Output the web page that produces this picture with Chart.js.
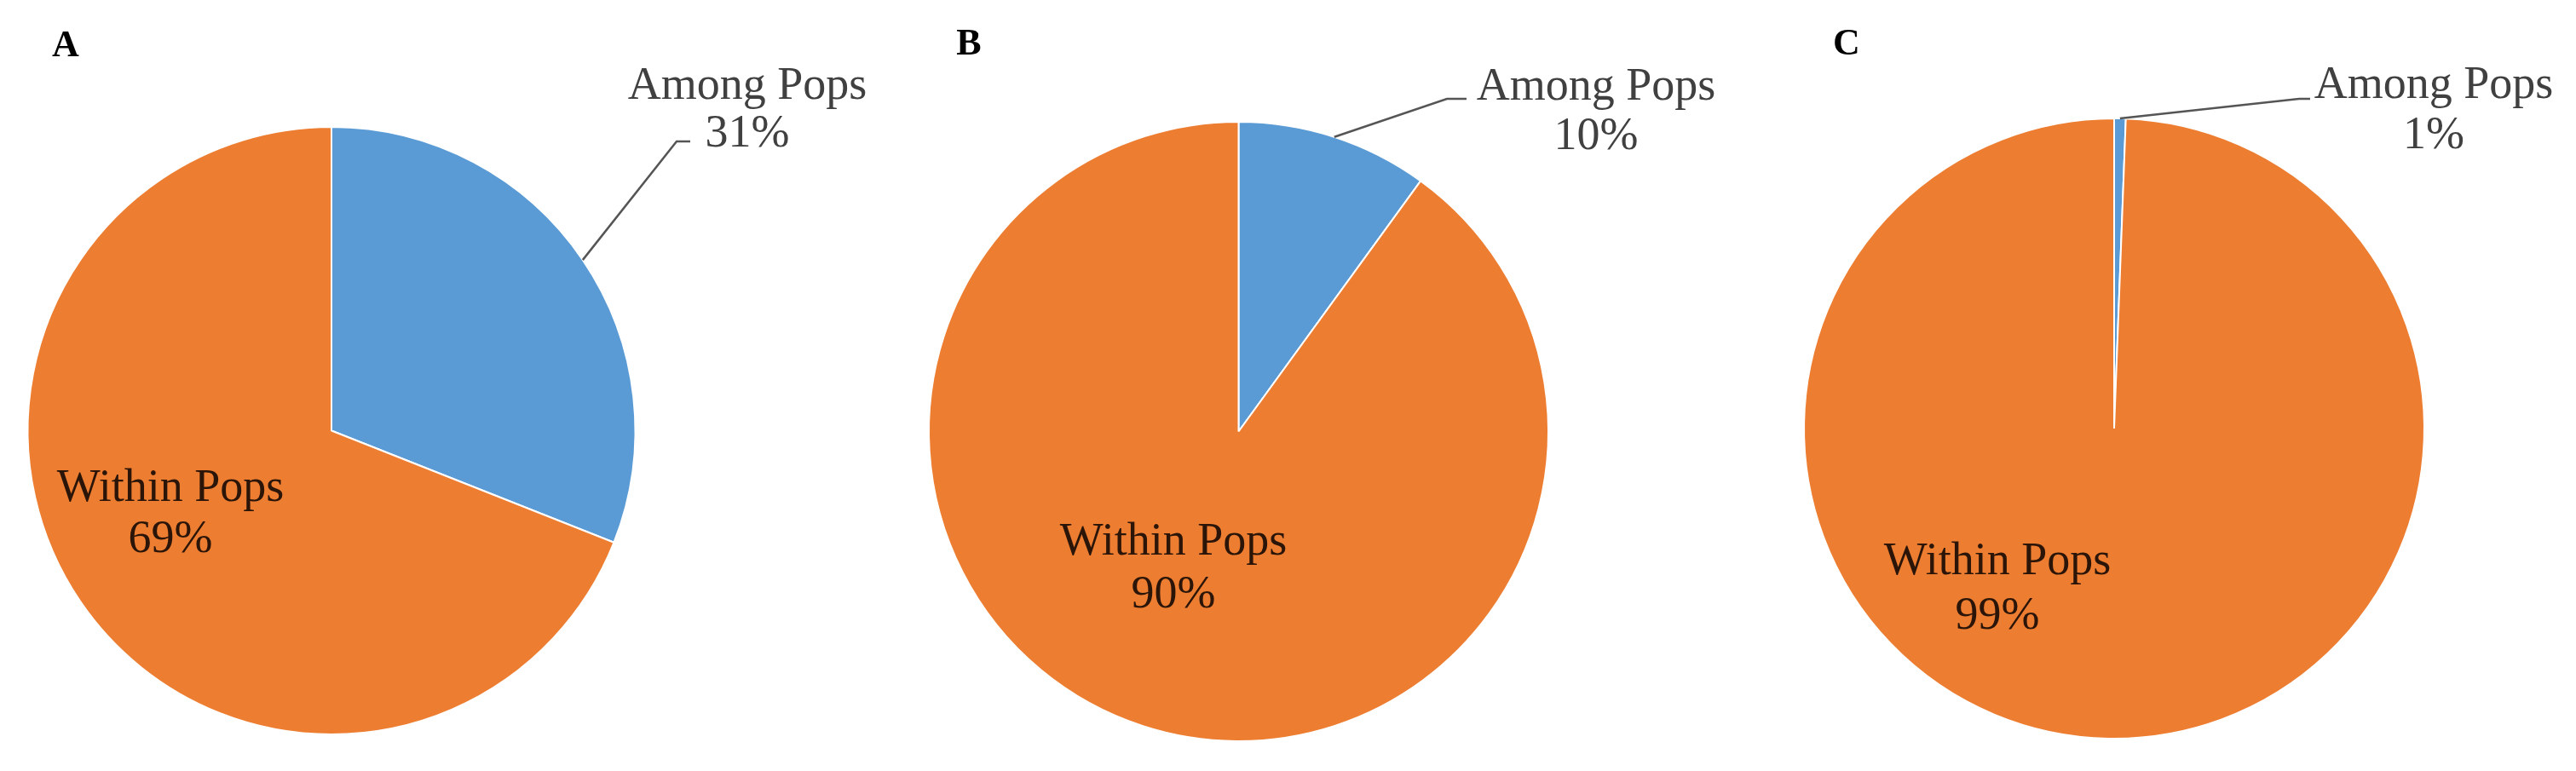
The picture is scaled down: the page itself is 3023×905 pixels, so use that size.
<!DOCTYPE html>
<html>
<head>
<meta charset="utf-8">
<title>AMOVA variance pies</title>
<script src="https://cdn.jsdelivr.net/npm/chart.js@4.4.1/dist/chart.umd.min.js"></script>
<style>
    body { margin: 0; background: #ffffff; }
    #wrap { position: relative; width: 3023px; height: 905px; overflow: hidden; }
    #wrap canvas { position: absolute; left: 0; top: 0; }
</style>
</head>
<body>
<div id="wrap">
    <canvas id="pieA" width="3023" height="905"></canvas>
    <canvas id="pieB" width="3023" height="905"></canvas>
    <canvas id="pieC" width="3023" height="905"></canvas>
</div>
<script>
// Data (percent of molecular variance)
const CATEGORIES = ['Among Pops', 'Within Pops'];
const PANEL_NAMES = ['A', 'B', 'C'];
const VALUES_A = [31, 69];
const VALUES_B = [10, 90];
const VALUES_C = [0.6, 99.4];

// Styles
const W = 3023;
const H = 905;
const SLICE_COLORS = ['#5B9BD5', '#ED7D31'];
const BORDER_W = 2;
const FONT = '"Liberation Serif", "Times New Roman", serif';
const LABEL_PX = 54;
const OUT_COLOR = '#404040';
const IN_COLOR = '#2a1508';
const LEADER_COLOR = '#555555';

// Layout of each panel: pie centre/radius and label anchors (page px)
const LAYOUT = {
    A: {
        cx: 389, cy: 505.5, r: 356.5,
        letter: { x: 77, y: 66 },
        among: { x: 877, y1: 116, y2: 172, elbow: [794, 166], end: [810, 166] },
        within: { x: 200, y1: 588, y2: 648 }
    },
    B: {
        cx: 1453.5, cy: 506.5, r: 363.5,
        letter: { x: 1137, y: 64 },
        among: { x: 1873, y1: 117, y2: 175, elbow: [1698, 116], end: [1721, 116] },
        within: { x: 1377, y1: 651, y2: 713 }
    },
    C: {
        cx: 2481, cy: 503, r: 364,
        letter: { x: 2167, y: 64 },
        among: { x: 2856, y1: 115, y2: 174, elbow: [2698, 116], end: [2711, 116] },
        within: { x: 2344, y1: 674, y2: 738 }
    }
};

function pct(values, i) {
    const total = values.reduce((a, b) => a + b, 0);
    return Math.round(values[i] / total * 100) + '%';
}

// Draws panel letter, outside label with leader line, inside label
const pieLabels = {
    id: 'pieLabels',
    afterDatasetsDraw(chart, args, opts) {
        const lay = opts.layout;
        const ctx = chart.ctx;
        const values = chart.data.datasets[0].data;
        const arc = chart.getDatasetMeta(0).data[0];
        const p = arc.getProps(['x', 'y', 'startAngle', 'endAngle', 'outerRadius'], true);
        const mid = (p.startAngle + p.endAngle) / 2;

        ctx.save();

        // leader line from the middle of the small slice
        ctx.strokeStyle = LEADER_COLOR;
        ctx.lineWidth = 2.5;
        ctx.beginPath();
        ctx.moveTo(p.x + Math.cos(mid) * p.outerRadius, p.y + Math.sin(mid) * p.outerRadius);
        ctx.lineTo(lay.among.elbow[0], lay.among.elbow[1]);
        ctx.lineTo(lay.among.end[0], lay.among.end[1]);
        ctx.stroke();

        ctx.textAlign = 'center';
        ctx.textBaseline = 'alphabetic';
        ctx.font = `${LABEL_PX}px ${FONT}`;

        ctx.fillStyle = OUT_COLOR;
        ctx.fillText(chart.data.labels[0], lay.among.x, lay.among.y1);
        ctx.fillText(pct(values, 0), lay.among.x, lay.among.y2);

        ctx.fillStyle = IN_COLOR;
        ctx.fillText(chart.data.labels[1], lay.within.x, lay.within.y1);
        ctx.fillText(pct(values, 1), lay.within.x, lay.within.y2);

        // panel letter
        ctx.fillStyle = '#000000';
        ctx.font = `bold 44px ${FONT}`;
        ctx.fillText(opts.name, lay.letter.x, lay.letter.y);

        ctx.restore();
    }
};

function makePie(canvasId, name, values) {
    const lay = LAYOUT[name];
    const half = lay.r + BORDER_W / 2;
    const ctx = document.getElementById(canvasId).getContext('2d');
    return new Chart(ctx, {
        type: 'pie',
        data: {
            labels: CATEGORIES,
            datasets: [{
                data: values,
                backgroundColor: SLICE_COLORS,
                borderColor: '#ffffff',
                borderWidth: BORDER_W
            }]
        },
        options: {
            responsive: false,
            animation: false,
            devicePixelRatio: 1,
            layout: {
                padding: {
                    left: lay.cx - half,
                    top: lay.cy - half,
                    right: W - (lay.cx + half),
                    bottom: H - (lay.cy + half)
                }
            },
            plugins: {
                legend: { display: false },
                tooltip: { enabled: false },
                pieLabels: { layout: lay, name: name }
            }
        },
        plugins: [pieLabels]
    });
}

makePie('pieA', PANEL_NAMES[0], VALUES_A);
makePie('pieB', PANEL_NAMES[1], VALUES_B);
makePie('pieC', PANEL_NAMES[2], VALUES_C);
</script>
</body>
</html>
